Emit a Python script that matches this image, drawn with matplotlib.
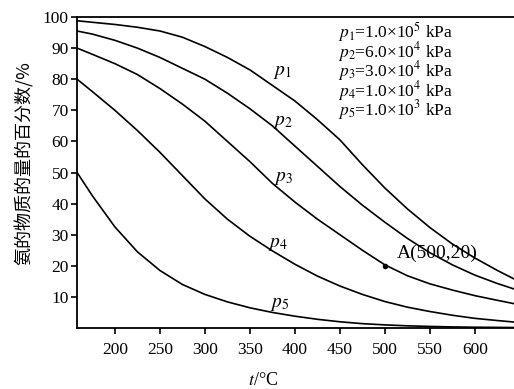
import matplotlib
matplotlib.use("Agg")
import matplotlib.pyplot as plt

plt.rcParams['font.family'] = ['Liberation Serif', 'DejaVu Serif']
plt.rcParams['mathtext.fontset'] = 'stix'

# temperature (°C) and NH3 mole fraction (%)
t = [158, 175, 200, 225, 250, 275, 300, 325, 350, 375, 400, 425,
     450, 475, 500, 525, 550, 575, 600, 625, 644]
p1 = [98.8, 98.3, 97.6, 96.7, 95.5, 93.5, 90.5, 87, 83, 78, 73, 67,
      60.5, 52.5, 45, 38.3, 32.3, 27, 22.5, 18.5, 15.7]
p2 = [95.5, 94.5, 92.5, 90, 87, 83.5, 80, 75.5, 70.5, 65, 58.5, 52,
      45.5, 39.5, 34, 28.8, 24.2, 20.3, 17, 14.3, 12.5]
p3 = [90, 88, 85, 81.5, 77, 72, 66.5, 60, 53.5, 46.5, 40.5, 35,
      30, 25, 20.3, 16.8, 14.2, 12.2, 10.4, 8.9, 7.8]
p4 = [80, 76, 70, 63.5, 56.5, 49, 41.5, 35, 29.5, 24.8, 20.5, 16.7,
      13.5, 10.8, 8.5, 6.7, 5.3, 4.1, 3.1, 2.4, 1.9]
p5 = [50, 42.5, 32.5, 24.5, 18.5, 14, 10.8, 8.4, 6.5, 5, 3.8, 2.8,
      2, 1.4, 1, 0.7, 0.5, 0.35, 0.25, 0.2, 0.15]
series = [p1, p2, p3, p4, p5]

curve_labels = [r'$p_1$', r'$p_2$', r'$p_3$', r'$p_4$', r'$p_5$']
label_pos = [(386, 82), (387, 66), (387, 48), (381, 27), (383, 7.4)]

legend_lines = [r'$p_1$=1.0×10$^5$ kPa', r'$p_2$=6.0×10$^4$ kPa',
                r'$p_3$=3.0×10$^4$ kPa', r'$p_4$=1.0×10$^4$ kPa',
                r'$p_5$=1.0×10$^3$ kPa']

point_a = (500, 20)

fig = plt.figure(figsize=(5.14, 3.89), dpi=100)
ax = fig.add_axes([0.150, 0.1568, 0.851, 0.7995])

for ys in series:
    ax.plot(t, ys, color='black', lw=1.2)

for lab, (x, y) in zip(curve_labels, label_pos):
    ax.text(x, y, lab, fontsize=14, ha='center', va='center')

ax.text(448, 82.5, '\n'.join(legend_lines), fontsize=12.5, ha='left',
        va='center', linespacing=0.74)

ax.plot(*point_a, 'o', color='black', ms=3)
ax.text(point_a[0] + 13, point_a[1] + 4, 'A(500,20)', fontsize=14,
        ha='left', va='center')

ax.set_xlim(158, 644)
ax.set_ylim(0, 100)
ax.set_xticks([200, 250, 300, 350, 400, 450, 500, 550, 600])
ax.set_yticks([10, 20, 30, 40, 50, 60, 70, 80, 90, 100])
ax.tick_params(labelsize=12.5, length=4, width=1.2, direction='out')
ax.tick_params(axis='x', pad=6)
ax.tick_params(axis='y', pad=2)
for side in ['left', 'bottom', 'top']:
    ax.spines[side].set_linewidth(1.3)
ax.spines['right'].set_visible(False)

ax.set_xlabel(r'$t$/°C', fontsize=13)
ax.xaxis.set_label_coords(0.425, -0.141)
ax.set_ylabel('氨的物质的量的百分数/%', fontsize=13,
              family=['Noto Sans CJK SC', 'DejaVu Sans'])
ax.yaxis.set_label_coords(-0.10, 0.53)

fig.savefig('out.png', dpi=100)
